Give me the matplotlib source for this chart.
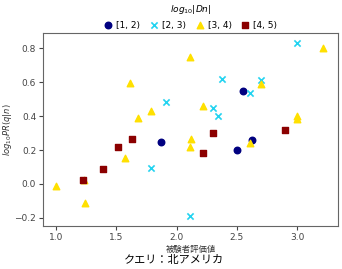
import matplotlib.pyplot as plt

plt.rcParams['font.family'] = ['DejaVu Sans', 'Noto Sans CJK JP']

# [1, 2)
x12 = [1.87, 2.55, 2.63, 2.50]
y12 = [0.25, 0.55, 0.26, 0.20]
# [2, 3)
x23 = [1.91, 3.00, 2.38, 2.70, 2.61, 2.30, 2.34, 1.79, 2.11]
y23 = [0.48, 0.83, 0.62, 0.61, 0.535, 0.45, 0.40, 0.094, -0.19]
# [3, 4)
x34 = [3.22, 2.11, 1.61, 2.70, 2.22, 1.68, 1.79, 3.00, 3.00, 2.12, 2.11, 2.61, 1.57, 1.00, 1.24, 1.23]
y34 = [0.80, 0.75, 0.595, 0.59, 0.46, 0.39, 0.43, 0.40, 0.385, 0.265, 0.22, 0.24, 0.15, -0.01, -0.11, 0.025]
# [4, 5)
x45 = [1.63, 1.51, 1.39, 1.22, 2.30, 2.22, 2.90]
y45 = [0.265, 0.22, 0.088, 0.025, 0.30, 0.18, 0.32]

labels = ['[1, 2)', '[2, 3)', '[3, 4)', '[4, 5)']

fig = plt.figure(figsize=(3.42, 2.69), dpi=100)
ax = fig.add_axes([0.126, 0.160, 0.862, 0.717])

ax.scatter(x12, y12, marker='o', s=22, color='navy', label=labels[0])
ax.scatter(x23, y23, marker='x', s=20, color='#22d3f0', linewidths=1.2, label=labels[1])
ax.scatter(x34, y34, marker='^', s=22, color='#ffe000', label=labels[2])
ax.scatter(x45, y45, marker='s', s=22, color='#8b0000', label=labels[3])

ax.set_xlim(0.89, 3.34)
ax.set_ylim(-0.247, 0.888)
ax.set_xticks([1.0, 1.5, 2.0, 2.5, 3.0])
ax.set_yticks([-0.2, 0.0, 0.2, 0.4, 0.6, 0.8])
ax.tick_params(labelsize=6.5, colors='#444', length=3, pad=2)
for s in ax.spines.values():
    s.set_color('#666')

ax.set_xlabel('被験者評価値', fontsize=6, family=['Noto Sans CJK JP'], color='#333')
ax.xaxis.set_label_coords(0.5, -0.1)
ax.set_ylabel('$log_{10}PR(q|n)$', fontsize=6, color='#333')
ax.yaxis.set_label_coords(-0.098, 0.5)

leg = ax.legend(title='$log_{10}|Dn|$', ncol=4, frameon=False, fontsize=6.5,
                title_fontsize=6.5, loc='lower center', bbox_to_anchor=(0.5, 0.99),
                handlelength=1.0, handletextpad=0.4, columnspacing=1.0, borderaxespad=0.2)

fig.text(0.51, 0.035, 'クエリ：北アメリカ', fontsize=8, ha='center', va='center',
         family=['Noto Sans CJK JP'])

fig.savefig('out.png', dpi=100)
